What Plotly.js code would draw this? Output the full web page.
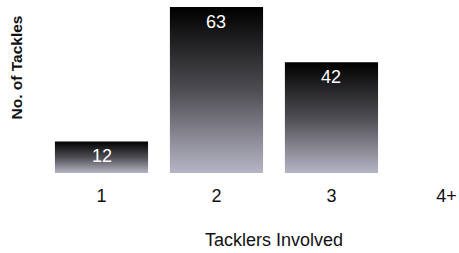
<!DOCTYPE html>
<html><head><meta charset="utf-8">
<script src="https://cdn.plot.ly/plotly-3.0.1.min.js"></script>
<style>body{margin:0;background:#fff}#c{width:459px;height:253px}</style>
</head><body><div id="c"></div>
<script>
const categories = ['1', '2', '3', '4+'];
const tackles = [12, 63, 42, 0];
const xTitle = 'Tacklers Involved';
const yTitle = 'No. of Tackles';

const xs = categories.map((c, i) => i);
const font = 'Liberation Sans, Arial, sans-serif';

const annotations = tackles.map((v, i) => v > 0 ? {
  x: xs[i], y: v, xref: 'x', yref: 'y', text: String(v), showarrow: false,
  yanchor: 'middle', yshift: -15, font: {family: font, size: 18, color: '#ffffff'}
} : null).filter(Boolean);
annotations.push({xref: 'paper', yref: 'paper', x: 0.554, y: -0.39, text: xTitle, showarrow: false,
  xanchor: 'center', yanchor: 'middle', font: {family: font, size: 18, color: '#111'}});
annotations.push({xref: 'paper', yref: 'paper', x: -0.0675, y: 0.61, text: '<b>' + yTitle + '</b>', showarrow: false, textangle: -90,
  xanchor: 'center', yanchor: 'middle', font: {family: font, size: 15.5, color: '#111'}});

const data = [{
  type: 'bar', x: xs, y: tackles, width: 0.81,
  marker: {color: '#555', line: {width: 0}},
  hoverinfo: 'none'
}];
const layout = {
  width: 459, height: 253,
  margin: {l: 44, r: 0, t: 0, b: 80},
  paper_bgcolor: '#fff', plot_bgcolor: 'rgba(0,0,0,0)',
  showlegend: false,
  xaxis: {range: [-0.5, 3.109], tickvals: xs, ticktext: categories, showgrid: false, zeroline: false,
    showline: false, ticks: '', ticklabelstandoff: 10, tickfont: {family: font, size: 18, color: '#111'}},
  yaxis: {range: [0, 65.66], visible: false},
  annotations: annotations
};
Plotly.newPlot('c', data, layout, {displayModeBar: false, staticPlot: true}).then(gd => {
  const svg = gd.querySelector('svg.main-svg');
  const ns = 'http://www.w3.org/2000/svg';
  let defs = svg.querySelector('defs');
  if (!defs) { defs = document.createElementNS(ns, 'defs'); svg.insertBefore(defs, svg.firstChild); }
  const g = document.createElementNS(ns, 'linearGradient');
  g.setAttribute('id', 'barGrad'); g.setAttribute('x1', '0'); g.setAttribute('y1', '0');
  g.setAttribute('x2', '0'); g.setAttribute('y2', '1');
  [['0', '#000000'], ['0.5', '#4e4d52'], ['1', '#b6b5c5']].forEach(([o, c]) => {
    const s = document.createElementNS(ns, 'stop');
    s.setAttribute('offset', o); s.setAttribute('stop-color', c); g.appendChild(s);
  });
  defs.appendChild(g);
  gd.querySelectorAll('.trace.bars .point path').forEach(p => { p.style.fill = 'url(#barGrad)'; });
});
</script></body></html>
